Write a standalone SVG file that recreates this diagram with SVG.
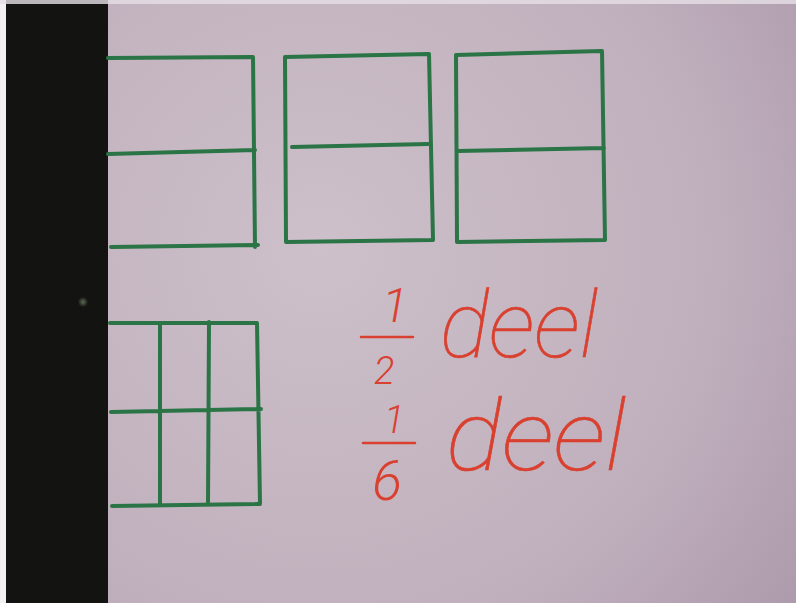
<svg xmlns="http://www.w3.org/2000/svg" width="796" height="603" viewBox="0 0 796 603">
  <defs>
    <radialGradient id="paper" cx="320" cy="250" r="640" gradientUnits="userSpaceOnUse">
      <stop offset="0" stop-color="#cdc0ca"/>
      <stop offset="0.6" stop-color="#c0b0bd"/>
      <stop offset="1" stop-color="#a995a8"/>
    </radialGradient>
    <radialGradient id="dot">
      <stop offset="0" stop-color="#5d6a58"/>
      <stop offset="1" stop-color="#141712"/>
    </radialGradient>
  </defs>
  <style>
    .g { fill: none; stroke: #2a7446; stroke-width: 4; stroke-linecap: round; stroke-linejoin: round; }
    .r { fill: #d9402f; font-family: Roboto, Lato, "Noto Sans", sans-serif; font-weight: 300; font-style: italic; }
    .w { fill: #d9402f; font-family: Roboto, Lato, "Noto Sans", sans-serif; font-weight: 100; font-style: italic; stroke: #d9402f; stroke-width: 0.6; }
    .bar { stroke: #d9402f; stroke-width: 2.5; stroke-linecap: round; }
  </style>
  <rect x="0" y="0" width="796" height="603" fill="url(#paper)"/>
  <rect x="0" y="0" width="108" height="603" fill="#131411"/>
  <rect x="0" y="0" width="6" height="603" fill="#f2f0f2"/>
  <rect x="0" y="0" width="796" height="4" fill="#e6e0e6" opacity="0.8"/>
  <circle cx="83" cy="302" r="5" fill="url(#dot)"/>

  <g id="box1">
    <path class="g" d="M108,58 L253,57 L255,247 M108,154 L255,150 M111,247 L258,245"/>
  </g>
  <g id="box2">
    <path class="g" d="M285,57 L429,54 L433,240 L286,242 Z M292,147 L428,144"/>
  </g>
  <g id="box3">
    <path class="g" d="M456,55 L602,51 L605,240 L457,242 Z M457,151 L604,148"/>
  </g>
  <g id="box4">
    <path class="g" d="M110,323 L257,323 L260,504 L112,506 M111,412 L261,409 M160,323 L160,505 M209,322 L208,504"/>
  </g>

  <g id="label1">
    <text class="r" x="382" y="322" font-size="48">1</text>
    <line class="bar" x1="361" y1="337" x2="413" y2="337"/>
    <text class="r" x="374" y="384" font-size="38">2</text>
    <text class="w" x="440" y="357" font-size="92" textLength="158" lengthAdjust="spacingAndGlyphs">deel</text>
  </g>
  <g id="label2">
    <text class="r" x="384" y="433" font-size="38">1</text>
    <line class="bar" x1="363" y1="443" x2="415" y2="443"/>
    <text class="r" x="372" y="500" font-size="56">6</text>
    <text class="w" x="446" y="470" font-size="98" textLength="180" lengthAdjust="spacingAndGlyphs">deel</text>
  </g>
</svg>
